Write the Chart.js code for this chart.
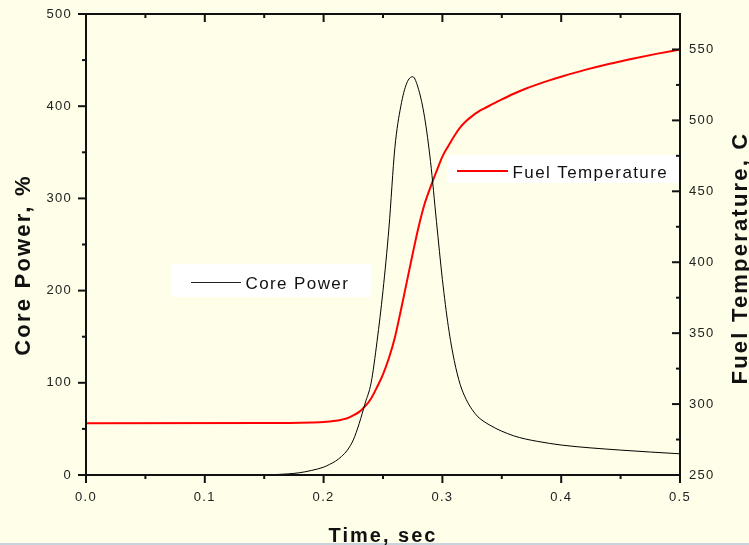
<!DOCTYPE html>
<html>
<head>
<meta charset="utf-8">
<script src="https://cdn.jsdelivr.net/npm/chart.js@4.4.0/dist/chart.umd.min.js"></script>
<style>
  html, body { margin: 0; padding: 0; background: #fefee9; }
  canvas { display: block; }
</style>
</head>
<body>
<canvas id="chart" width="749" height="545"></canvas>
<script>
// core power transient, time in s, power in %
const powerTime = [0, 0.10, 0.15, 0.16, 0.17, 0.18, 0.19, 0.20, 0.205, 0.21,
  0.215, 0.22, 0.225, 0.23, 0.235, 0.24, 0.245, 0.25, 0.255, 0.26,
  0.265, 0.27, 0.275, 0.28, 0.285, 0.29, 0.295, 0.30, 0.305, 0.31,
  0.315, 0.32, 0.325, 0.33, 0.335, 0.34, 0.345, 0.35, 0.36, 0.37,
  0.38, 0.40, 0.45, 0.50];
const corePower = [0, 0, 0.2, 0.5, 1.2, 2.5, 5, 8.5, 11.5, 15,
  20, 27, 38, 56, 78, 100, 145, 200, 268, 355,
  400, 425, 432, 418, 388, 340, 275, 212, 161, 124,
  98, 82, 71, 63, 58, 54, 50.5, 47.5, 42.5, 39,
  36.5, 32.5, 27, 23];

// fuel temperature, time in s, temperature in C
const tempTime = [0, 0.15, 0.19, 0.20, 0.21, 0.215, 0.22, 0.225, 0.23, 0.235,
  0.24, 0.245, 0.25, 0.255, 0.26, 0.265, 0.27, 0.275, 0.28, 0.285,
  0.29, 0.295, 0.30, 0.305, 0.31, 0.315, 0.32, 0.325, 0.33, 0.335,
  0.34, 0.35, 0.36, 0.37, 0.38, 0.39, 0.40, 0.42, 0.44, 0.46,
  0.48, 0.50];
const fuelTemp = [286.5, 286.6, 287, 287.3, 288.2, 289, 290, 292, 294.5, 298.5,
  304, 312, 321, 332.5, 347, 366, 386, 406, 425, 441,
  453, 464, 474.5, 482, 489, 495, 499.5, 503, 506, 508.3,
  510.5, 514.8, 518.8, 522.3, 525.4, 528.2, 530.8, 535.6, 539.8, 543.5,
  546.9, 550];

// tick labels
const timeTicks = [0, 0.1, 0.2, 0.3, 0.4, 0.5];
const powerTicks = [0, 100, 200, 300, 400, 500];
const tempTicks = [250, 300, 350, 400, 450, 500, 550];

const FONT = '"Liberation Sans", Arial, sans-serif';
const tickFont = { family: FONT, size: 13 };

const toPoints = (xs, ys) => xs.map((x, i) => ({ x: x, y: ys[i] }));

// midpoints between major ticks, for the minor tick marks
function minors(list, last) {
  const step = list[1] - list[0];
  const out = [];
  for (let i = 0; i < list.length; i++) {
    const v = list[i] + step / 2;
    if (v < last) out.push(v);
  }
  return out;
}

// fixed box sizes so the plot area lands where the original has it
function fixWidth(w) {
  return s => { s.width = w; s.paddingTop = 0; s.paddingBottom = 0; };
}

const framePlugin = {
  id: 'frame',
  beforeDraw(chart) {
    const c = chart.ctx;
    c.save();
    c.fillStyle = '#fefee9';
    c.fillRect(0, 0, chart.width, chart.height);
    c.fillStyle = '#c8d4dc';
    c.fillRect(0, chart.height - 2, chart.width, 2);
    c.restore();
    c.letterSpacing = '1.3px';
  },
  beforeDatasetsDraw(chart) {
    const c = chart.ctx;
    const ds = chart.data.datasets;
    c.save();
    c.fillStyle = '#ffffff';
    c.fillRect(171, 264, 200, 33);
    c.fillRect(447, 155, 234, 28);

    c.lineWidth = 1;
    c.strokeStyle = '#222';
    c.beginPath(); c.moveTo(191, 282.5); c.lineTo(241, 282.5); c.stroke();
    c.lineWidth = 2;
    c.strokeStyle = '#ff0000';
    c.beginPath(); c.moveTo(457, 171); c.lineTo(508, 171); c.stroke();

    c.fillStyle = '#111';
    c.font = '17px ' + FONT;
    c.letterSpacing = '1.4px';
    c.textAlign = 'left';
    c.textBaseline = 'alphabetic';
    c.fillText(ds[0].label, 245.5, 289);
    c.fillText(ds[1].label, 512.5, 177.5);
    c.restore();
  },
  afterDraw(chart) {
    const c = chart.ctx;
    const a = chart.chartArea;
    const sx = chart.scales.x, sy = chart.scales.y, sy1 = chart.scales.y1;
    c.letterSpacing = '0px';
    c.save();
    c.strokeStyle = '#111';
    c.lineWidth = 2;
    c.strokeRect(a.left, a.top, a.right - a.left, a.bottom - a.top);

    const tick = (x1, y1, x2, y2) => { c.beginPath(); c.moveTo(x1, y1); c.lineTo(x2, y2); c.stroke(); };

    // time axis: outward at bottom, inward at top
    timeTicks.forEach(v => {
      const x = sx.getPixelForValue(v);
      tick(x, a.bottom, x, a.bottom + 8);
      tick(x, a.top, x, a.top + 8);
    });
    minors(timeTicks, 0.5).forEach(v => {
      const x = sx.getPixelForValue(v);
      tick(x, a.bottom, x, a.bottom + 4);
      tick(x, a.top, x, a.top + 4);
    });
    // power axis: outward on the left
    powerTicks.forEach(v => {
      const y = sy.getPixelForValue(v);
      tick(a.left - 8, y, a.left, y);
    });
    minors(powerTicks, 500).forEach(v => {
      const y = sy.getPixelForValue(v);
      tick(a.left - 4, y, a.left, y);
    });
    // temperature axis: inward on the right
    tempTicks.forEach(v => {
      const y = sy1.getPixelForValue(v);
      tick(a.right - 8, y, a.right, y);
    });
    minors(tempTicks, 575).forEach(v => {
      const y = sy1.getPixelForValue(v);
      tick(a.right - 4, y, a.right, y);
    });

    // axis titles
    c.fillStyle = '#111';
    c.textAlign = 'center';
    c.textBaseline = 'alphabetic';
    c.font = 'bold 20px ' + FONT;
    c.letterSpacing = '2px';
    c.fillText('Time, sec', (a.left + a.right) / 2, 542);

    c.font = 'bold 22px ' + FONT;
    c.letterSpacing = '2.2px';
    c.save();
    c.translate(30, 265);
    c.rotate(-Math.PI / 2);
    c.fillText('Core Power, %', 0, 0);
    c.restore();
    c.save();
    c.translate(747, 258);
    c.rotate(-Math.PI / 2);
    c.fillText('Fuel Temperature, C', 0, 0);
    c.restore();
    c.restore();
  }
};

new Chart(document.getElementById('chart'), {
  type: 'line',
  data: {
    datasets: [
      {
        label: 'Core Power',
        data: toPoints(powerTime, corePower),
        yAxisID: 'y',
        borderColor: '#000000',
        borderWidth: 1,
        pointRadius: 0,
        cubicInterpolationMode: 'monotone'
      },
      {
        label: 'Fuel Temperature',
        data: toPoints(tempTime, fuelTemp),
        yAxisID: 'y1',
        borderColor: '#ff0000',
        borderWidth: 2,
        pointRadius: 0,
        cubicInterpolationMode: 'monotone'
      }
    ]
  },
  options: {
    responsive: false,
    animation: false,
    devicePixelRatio: 1,
    layout: { padding: { top: 14, left: 0, right: 0, bottom: 0 } },
    plugins: {
      legend: { display: false },
      tooltip: { enabled: false }
    },
    scales: {
      x: {
        type: 'linear',
        min: 0,
        max: 0.5,
        grid: { display: false, drawTicks: false },
        border: { display: false },
        afterBuildTicks: s => { s.ticks = timeTicks.map(v => ({ value: v })); },
        afterFit: s => { s.height = 70; },
        ticks: {
          font: tickFont,
          color: '#222',
          padding: 15,
          maxRotation: 0,
          callback: v => Number(v).toFixed(1)
        }
      },
      y: {
        position: 'left',
        min: 0,
        max: 500,
        grid: { display: false, drawTicks: false },
        border: { display: false },
        afterBuildTicks: s => { s.ticks = powerTicks.map(v => ({ value: v })); },
        afterFit: fixWidth(86),
        ticks: { font: tickFont, color: '#222', padding: 14 }
      },
      y1: {
        position: 'right',
        min: 250,
        max: 575,
        grid: { display: false, drawTicks: false },
        border: { display: false },
        afterBuildTicks: s => { s.ticks = tempTicks.map(v => ({ value: v })); },
        afterFit: fixWidth(69),
        ticks: { font: tickFont, color: '#222', padding: 9 }
      }
    }
  },
  plugins: [framePlugin]
});
</script>
</body>
</html>
